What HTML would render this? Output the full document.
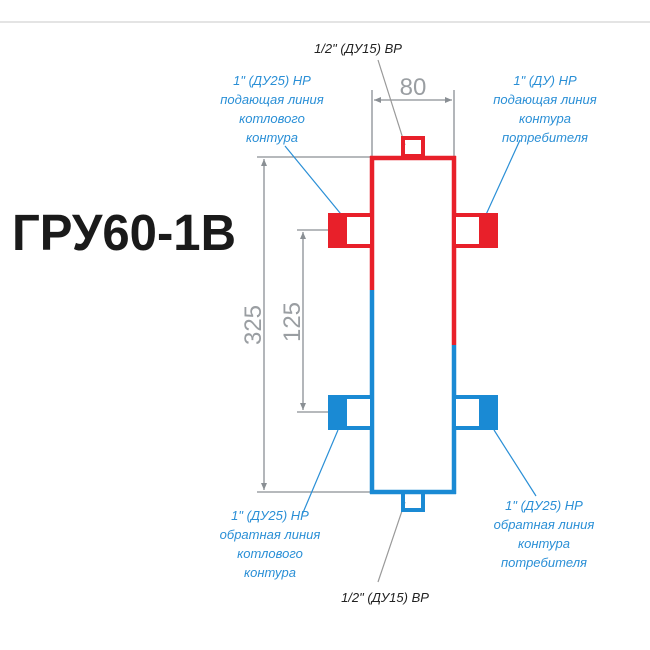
<!DOCTYPE html>
<html><head><meta charset="utf-8"><style>html,body{margin:0;padding:0;background:#fff}svg{display:block}</style></head>
<body>
<svg width="650" height="650" viewBox="0 0 650 650" xmlns="http://www.w3.org/2000/svg">
<line x1="0" y1="22" x2="650" y2="22" stroke="#c8c8c8" stroke-width="1"/>
<text x="12" y="250" font-family="Liberation Sans, sans-serif" font-weight="bold" font-size="51" fill="#1a1a1a" textLength="224" lengthAdjust="spacingAndGlyphs">ГРУ60-1В</text>
<g stroke="#8a8f94" stroke-width="1.3" fill="none">
<line x1="372" y1="90" x2="372" y2="156"/><line x1="454" y1="90" x2="454" y2="156"/>
<line x1="374" y1="100" x2="452" y2="100"/>
<line x1="257" y1="157" x2="370" y2="157"/><line x1="257" y1="492" x2="370" y2="492"/>
<line x1="264" y1="159" x2="264" y2="490"/>
<line x1="297" y1="230" x2="330" y2="230"/><line x1="297" y1="412" x2="330" y2="412"/>
<line x1="303" y1="232" x2="303" y2="410"/>
</g>
<g fill="#8a8f94">
<path d="M374 100 l7 -3 v6z"/><path d="M452 100 l-7 -3 v6z"/>
<path d="M264 159 l-3 7 h6z"/><path d="M264 490 l-3 -7 h6z"/>
<path d="M303 232 l-3 7 h6z"/><path d="M303 410 l-3 -7 h6z"/>
</g>
<g font-family="Liberation Sans, sans-serif" font-size="24" fill="#9a9ea2">
<text x="413" y="95" text-anchor="middle">80</text>
<text transform="translate(261,325) rotate(-90)" text-anchor="middle">325</text>
<text transform="translate(300,322) rotate(-90)" text-anchor="middle">125</text>
</g>
<!-- leader lines -->
<g stroke-width="1.2">
<line x1="378" y1="60" x2="405" y2="145" stroke="#999"/>
<line x1="405" y1="502" x2="378" y2="582" stroke="#999"/>
<line x1="285" y1="146" x2="345" y2="219" stroke="#2a8fd6"/>
<line x1="520" y1="140" x2="484" y2="219" stroke="#2a8fd6"/>
<line x1="338" y1="430" x2="302" y2="515" stroke="#2a8fd6"/>
<line x1="494" y1="430" x2="536" y2="496" stroke="#2a8fd6"/>
</g>
<!-- nipples -->
<rect x="403" y="138" width="20" height="18" fill="none" stroke="#e8202a" stroke-width="4"/>
<rect x="403" y="492" width="20" height="18" fill="none" stroke="#1a8ad4" stroke-width="4"/>
<!-- body -->
<g fill="none" stroke-width="4.5">
<line x1="370" y1="158" x2="456" y2="158" stroke="#e8202a"/>
<line x1="372" y1="156" x2="372" y2="290" stroke="#e8202a"/>
<line x1="372" y1="290" x2="372" y2="494" stroke="#1a8ad4"/>
<line x1="454" y1="156" x2="454" y2="345" stroke="#e8202a"/>
<line x1="454" y1="345" x2="454" y2="494" stroke="#1a8ad4"/>
<line x1="370" y1="492" x2="456" y2="492" stroke="#1a8ad4"/>
</g>
<!-- fittings -->
<g>
<rect x="328" y="213" width="42" height="35" fill="#e8202a"/><rect x="347" y="217" width="23" height="27" fill="#fff"/>
<rect x="456" y="213" width="42" height="35" fill="#e8202a"/><rect x="456" y="217" width="23" height="27" fill="#fff"/>
<rect x="328" y="395" width="42" height="35" fill="#1a8ad4"/><rect x="347" y="399" width="23" height="27" fill="#fff"/>
<rect x="456" y="395" width="42" height="35" fill="#1a8ad4"/><rect x="456" y="399" width="23" height="27" fill="#fff"/>
</g>
<!-- labels -->
<g font-family="Liberation Sans, sans-serif" font-style="italic" font-size="13" text-anchor="middle">
<text x="358" y="53" fill="#222">1/2" (ДУ15) ВР</text>
<text x="385" y="602" fill="#222">1/2" (ДУ15) ВР</text>
<g fill="#2a8fd6">
<text x="272" y="85">1" (ДУ25) НР</text>
<text x="272" y="104">подающая линия</text>
<text x="272" y="123">котлового</text>
<text x="272" y="142">контура</text>
<text x="545" y="85">1" (ДУ) НР</text>
<text x="545" y="104">подающая линия</text>
<text x="545" y="123">контура</text>
<text x="545" y="142">потребителя</text>
<text x="270" y="520">1" (ДУ25) НР</text>
<text x="270" y="539">обратная линия</text>
<text x="270" y="558">котлового</text>
<text x="270" y="577">контура</text>
<text x="544" y="510">1" (ДУ25) НР</text>
<text x="544" y="529">обратная линия</text>
<text x="544" y="548">контура</text>
<text x="544" y="567">потребителя</text>
</g>
</g>
</svg>
</body></html>
